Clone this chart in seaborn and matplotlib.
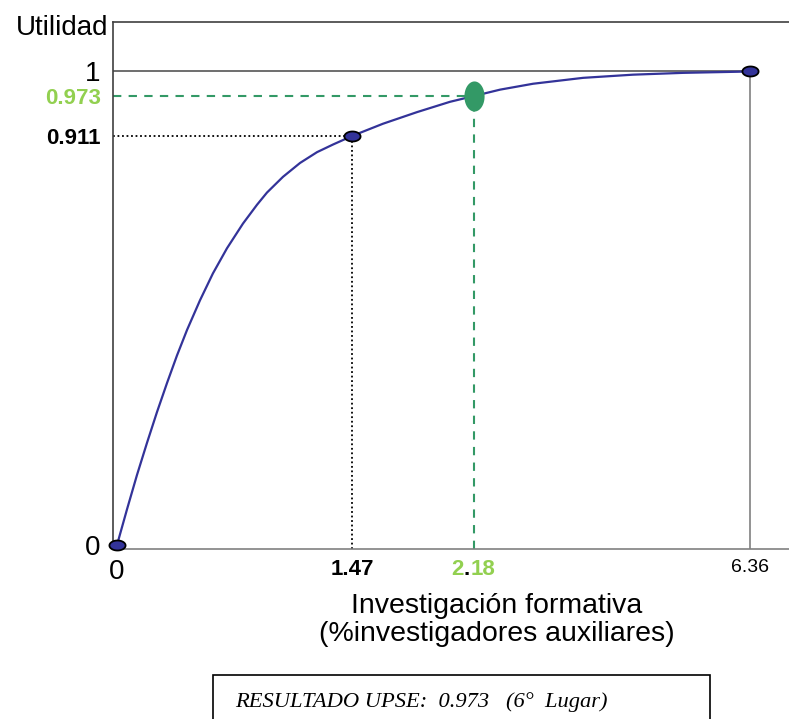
import numpy as np
import matplotlib
matplotlib.use('Agg')
import matplotlib.pyplot as plt
from matplotlib.path import Path
from matplotlib.patches import Rectangle
import seaborn as sns

# utility curve
curve_x = [0, 0.063, 0.125, 0.188, 0.250, 0.313, 0.375, 0.438, 0.519, 0.600,
           0.688, 0.788, 0.876, 0.938, 1.038, 1.145, 1.251, 1.351, 1.47,
           1.650, 1.848, 2.040, 2.18, 2.574, 3.074, 3.831, 4.588, 5.345, 6.36]
curve_y = [0, 0.080, 0.156, 0.228, 0.296, 0.361, 0.422, 0.479, 0.545, 0.605,
           0.661, 0.716, 0.758, 0.785, 0.820, 0.851, 0.875, 0.892, 0.911,
           0.930, 0.948, 0.964, 0.973, 0.980, 0.9865, 0.993, 0.9965, 0.9985, 1.0]

# marked points
point_x = [0, 1.47, 6.36]
point_y = [0, 0.911, 1.0]
upse_x = [2.18]
upse_y = [0.973]

x_ticks = [0, 1.47, 2.18, 6.36]
y_ticks = [0, 0.911, 0.973, 1]

# the sketch is not drawn to scale -> piecewise warped axes
X_KNOTS = [-1, 0, 1.47, 2.18, 6.36, 10]
X_POS = [-1.60, 0, 2.35, 3.57, 6.33, 8.73]
Y_KNOTS = [-1, 0, 0.911, 0.973, 1, 2]
Y_POS = [-4.49, 0, 4.09, 4.49, 4.735, 13.80]

BLUE = '#333399'
GREEN = '#339966'
LIGHT_GREEN = '#92d050'


def ellipse(w, h):
    t = np.linspace(0, 2 * np.pi, 60)
    return Path(np.column_stack([w * np.cos(t), h * np.sin(t)]), closed=True)


sns.set_style('white')
plt.rcParams['font.family'] = ['Liberation Sans', 'DejaVu Sans']
plt.rcParams['text.color'] = 'black'
plt.rcParams['axes.labelcolor'] = 'black'
plt.rcParams['xtick.color'] = 'black'
plt.rcParams['ytick.color'] = 'black'

fig = plt.figure(figsize=(7.89, 7.19), dpi=100)
ax = fig.add_axes([113 / 789, 170 / 719, 676 / 789, 527 / 719])

ax.set_xscale('function', functions=(lambda v: np.interp(v, X_KNOTS, X_POS),
                                     lambda v: np.interp(v, X_POS, X_KNOTS)))
ax.set_yscale('function', functions=(lambda v: np.interp(v, Y_KNOTS, Y_POS),
                                     lambda v: np.interp(v, Y_POS, Y_KNOTS)))
xlo, xhi = -0.025, 6.95
ylo, yhi = -0.0089, 1.0546
ax.set_xlim(xlo, xhi)
ax.set_ylim(ylo, yhi)

# guide lines
ax.plot([xlo, point_x[2]], [1, 1], color='#555555', lw=1.2, zorder=1)
ax.plot([point_x[2], point_x[2]], [ylo, 1], color='#808080', lw=1.2, zorder=1)
ax.plot([xlo, point_x[1]], [point_y[1]] * 2, color='black', ls=(0, (1, 1.5)), lw=1.3)
ax.plot([point_x[1]] * 2, [ylo, point_y[1]], color='black', ls=(0, (1, 1.5)), lw=1.3)
ax.plot([xlo, upse_x[0]], [upse_y[0]] * 2, color=GREEN, ls=(0, (4, 3.5)), lw=1.5)
ax.plot([upse_x[0]] * 2, [ylo, upse_y[0]], color=GREEN, ls=(0, (4, 3.5)), lw=1.5)

sns.lineplot(x=curve_x, y=curve_y, color=BLUE, lw=1.6, sort=False,
             estimator=None, ax=ax, zorder=3)
sns.scatterplot(x=point_x, y=point_y, marker=ellipse(1, 0.62), s=135,
                color=BLUE, edgecolor='black', linewidth=1.3, zorder=5,
                clip_on=False, ax=ax)
sns.scatterplot(x=upse_x, y=upse_y, marker=ellipse(0.67, 1), s=470,
                color=GREEN, edgecolor=GREEN, linewidth=0, zorder=5, ax=ax)

# spines
for side in ['top', 'left']:
    ax.spines[side].set_color('#404040')
    ax.spines[side].set_linewidth(1.2)
ax.spines['bottom'].set_color('#808080')
ax.spines['bottom'].set_linewidth(1.2)
ax.spines['right'].set_visible(False)

# ticks
ax.set_xticks(x_ticks, ['0', '1.47', '', '6.36'])
ax.set_yticks(y_ticks, ['0', '0.911', '0.973', '1'])
ax.tick_params(length=0, labelcolor='black')
ax.tick_params(axis='x', pad=7)
ax.tick_params(axis='y', pad=9)
xl = ax.get_xticklabels()
xl[0].set_fontsize(20)
xl[1].set_fontsize(16)
xl[1].set_fontweight('bold')
xl[3].set_fontsize(14)
yl = ax.get_yticklabels()
yl[0].set_fontsize(20)
yl[1].set_fontsize(16)
yl[1].set_fontweight('bold')
yl[2].set_fontsize(16)
yl[2].set_fontweight('bold')
yl[2].set_color(LIGHT_GREEN)
yl[3].set_fontsize(20)

# 2.18 label: green digits, black point
tr = ax.get_xaxis_transform()
for txt, dx, ha, col in [('2', -7.2, 'right', LIGHT_GREEN), ('.', -5, 'center', 'black'),
                         ('18', -2.8, 'left', LIGHT_GREEN)]:
    ax.annotate(txt, xy=(upse_x[0], 0), xycoords=tr, xytext=(dx, -7),
                textcoords='offset points', ha=ha, va='top', fontsize=16,
                fontweight='bold', color=col)

ax.annotate('Utilidad', xy=(0, 1), xycoords='axes fraction', xytext=(-3.6, -9.4),
            textcoords='offset points', ha='right', va='baseline', fontsize=20,
            color='black')

ax.set_xlabel('Investigación formativa\n(%investigadores auxiliares)',
              fontsize=20.5, linespacing=1.1, color='black')
ax.xaxis.set_label_coords(0.568, -0.083)
ax.set_ylabel('')

# result box
fig.add_artist(Rectangle((213 / 789, -0.1), 497 / 789, 0.1 + 44 / 719,
                         transform=fig.transFigure, facecolor='white',
                         edgecolor='black', lw=1.2))
fig.text(235 / 789, 1 - 702 / 719, 'RESULTADO UPSE:  0.973   (6°  Lugar)',
         ha='left', va='center', fontsize=16.2, fontstyle='italic',
         family=['Liberation Serif', 'DejaVu Serif'], color='black')

fig.savefig('out.png', dpi=100)
